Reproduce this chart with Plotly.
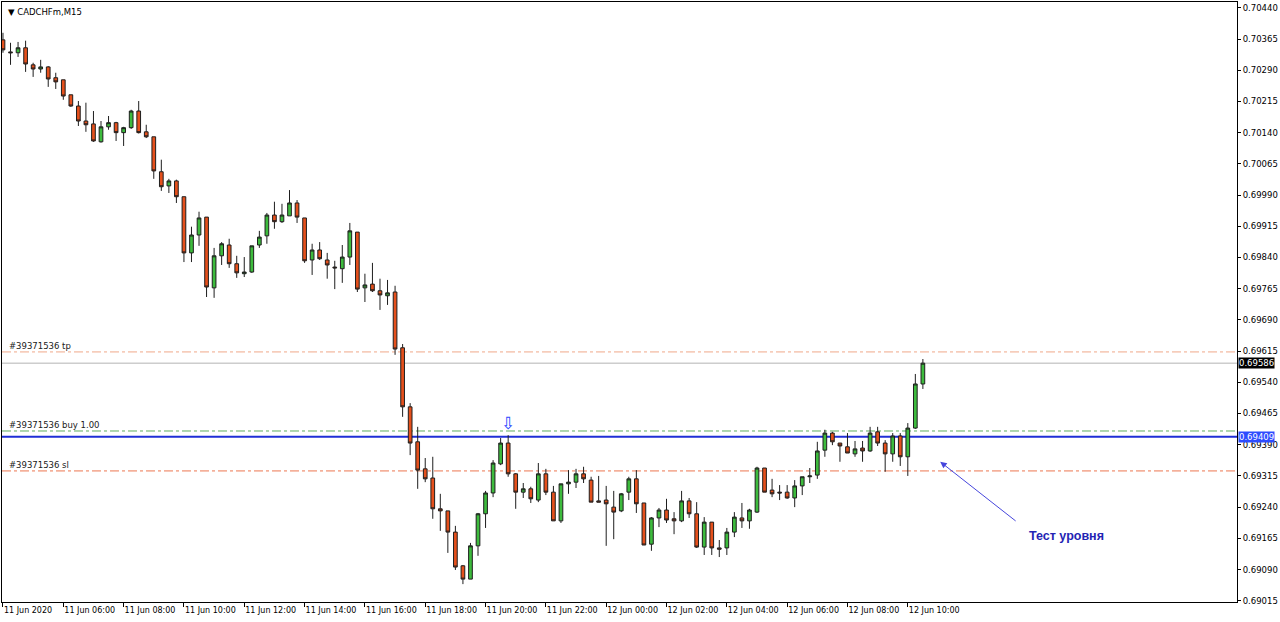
import plotly.graph_objects as go

# ---------------- data (CADCHFm, M15, 11 Jun 04:00 .. 12 Jun 10:30) ----------------
opens = [0.70363, 0.70334, 0.70332, 0.70344, 0.70303, 0.70293, 0.70298, 0.70272, 0.70267, 0.70231,
         0.70204, 0.70168, 0.70161, 0.70118, 0.70154, 0.70164, 0.70140, 0.70152, 0.70192, 0.70142,
         0.70130, 0.70046, 0.70012, 0.70024, 0.69986, 0.69851, 0.69894, 0.69937, 0.69767, 0.69844,
         0.69870, 0.69825, 0.69801, 0.69805, 0.69870, 0.69892, 0.69942, 0.69926, 0.69940, 0.69971,
         0.69935, 0.69834, 0.69858, 0.69834, 0.69817, 0.69813, 0.69841, 0.69901, 0.69767, 0.69776,
         0.69760, 0.69748, 0.69757, 0.69623, 0.69481, 0.69397, 0.69332, 0.69310, 0.69236, 0.69231,
         0.69180, 0.69099, 0.69067, 0.69147, 0.69224, 0.69274, 0.69344, 0.69394, 0.69320, 0.69276,
         0.69284, 0.69257, 0.69320, 0.69276, 0.69207, 0.69296, 0.69300, 0.69320, 0.69305, 0.69255,
         0.69257, 0.69240, 0.69231, 0.69276, 0.69308, 0.69250, 0.69151, 0.69214, 0.69233, 0.69212,
         0.69207, 0.69255, 0.69224, 0.69144, 0.69204, 0.69142, 0.69142, 0.69180, 0.69214, 0.69207,
         0.69228, 0.69334, 0.69281, 0.69276, 0.69276, 0.69262, 0.69291, 0.69313, 0.69317, 0.69377,
         0.69418, 0.69394, 0.69385, 0.69368, 0.69382, 0.69375, 0.69421, 0.69394, 0.69368, 0.69411,
         0.69361, 0.69430, 0.69536]
highs = [0.70380, 0.70356, 0.70358, 0.70361, 0.70308, 0.70315, 0.70300, 0.70284, 0.70267, 0.70231,
         0.70216, 0.70212, 0.70192, 0.70168, 0.70180, 0.70166, 0.70154, 0.70195, 0.70216, 0.70159,
         0.70130, 0.70075, 0.70029, 0.70027, 0.69986, 0.69914, 0.69950, 0.69937, 0.69863, 0.69877,
         0.69885, 0.69844, 0.69841, 0.69868, 0.69904, 0.69947, 0.69974, 0.69969, 0.70002, 0.69978,
         0.69935, 0.69873, 0.69877, 0.69851, 0.69832, 0.69870, 0.69923, 0.69901, 0.69801, 0.69827,
         0.69789, 0.69786, 0.69772, 0.69632, 0.69490, 0.69433, 0.69358, 0.69361, 0.69272, 0.69231,
         0.69195, 0.69101, 0.69154, 0.69226, 0.69279, 0.69353, 0.69406, 0.69413, 0.69322, 0.69298,
         0.69289, 0.69346, 0.69332, 0.69291, 0.69296, 0.69329, 0.69332, 0.69337, 0.69313, 0.69315,
         0.69291, 0.69279, 0.69274, 0.69313, 0.69329, 0.69250, 0.69216, 0.69238, 0.69260, 0.69228,
         0.69279, 0.69262, 0.69252, 0.69216, 0.69204, 0.69161, 0.69190, 0.69228, 0.69250, 0.69236,
         0.69337, 0.69334, 0.69308, 0.69293, 0.69293, 0.69305, 0.69313, 0.69334, 0.69397, 0.69426,
         0.69421, 0.69394, 0.69418, 0.69399, 0.69399, 0.69433, 0.69433, 0.69401, 0.69418, 0.69418,
         0.69442, 0.69560, 0.69596]
lows = [0.70332, 0.70303, 0.70322, 0.70286, 0.70274, 0.70284, 0.70250, 0.70245, 0.70219, 0.70202,
        0.70156, 0.70142, 0.70118, 0.70116, 0.70147, 0.70120, 0.70108, 0.70149, 0.70138, 0.70127,
        0.70029, 0.70000, 0.69995, 0.69971, 0.69829, 0.69829, 0.69868, 0.69745, 0.69743, 0.69822,
        0.69815, 0.69791, 0.69793, 0.69803, 0.69863, 0.69873, 0.69909, 0.69923, 0.69940, 0.69923,
        0.69827, 0.69798, 0.69834, 0.69789, 0.69764, 0.69779, 0.69822, 0.69757, 0.69733, 0.69757,
        0.69714, 0.69726, 0.69606, 0.69457, 0.69365, 0.69284, 0.69300, 0.69212, 0.69183, 0.69130,
        0.69089, 0.69055, 0.69067, 0.69123, 0.69190, 0.69264, 0.69341, 0.69313, 0.69236, 0.69262,
        0.69250, 0.69252, 0.69269, 0.69207, 0.69202, 0.69272, 0.69286, 0.69298, 0.69252, 0.69252,
        0.69147, 0.69163, 0.69228, 0.69257, 0.69226, 0.69149, 0.69135, 0.69192, 0.69202, 0.69175,
        0.69204, 0.69214, 0.69142, 0.69125, 0.69125, 0.69120, 0.69125, 0.69168, 0.69190, 0.69188,
        0.69226, 0.69276, 0.69264, 0.69257, 0.69260, 0.69240, 0.69269, 0.69298, 0.69308, 0.69361,
        0.69389, 0.69349, 0.69370, 0.69361, 0.69349, 0.69373, 0.69387, 0.69325, 0.69349, 0.69339,
        0.69315, 0.69428, 0.69524]
closes = [0.70339, 0.70332, 0.70344, 0.70305, 0.70293, 0.70298, 0.70269, 0.70262, 0.70228, 0.70204,
          0.70168, 0.70159, 0.70120, 0.70154, 0.70164, 0.70140, 0.70152, 0.70192, 0.70140, 0.70130,
          0.70048, 0.70010, 0.70024, 0.69986, 0.69851, 0.69894, 0.69935, 0.69769, 0.69844, 0.69873,
          0.69825, 0.69803, 0.69805, 0.69868, 0.69889, 0.69942, 0.69926, 0.69942, 0.69971, 0.69937,
          0.69832, 0.69858, 0.69837, 0.69822, 0.69815, 0.69841, 0.69904, 0.69764, 0.69774, 0.69760,
          0.69750, 0.69755, 0.69620, 0.69481, 0.69394, 0.69329, 0.69308, 0.69236, 0.69231, 0.69180,
          0.69096, 0.69067, 0.69147, 0.69224, 0.69274, 0.69346, 0.69394, 0.69320, 0.69276, 0.69284,
          0.69260, 0.69320, 0.69276, 0.69207, 0.69296, 0.69300, 0.69320, 0.69308, 0.69252, 0.69252,
          0.69248, 0.69228, 0.69272, 0.69308, 0.69248, 0.69149, 0.69214, 0.69233, 0.69209, 0.69207,
          0.69255, 0.69224, 0.69144, 0.69204, 0.69142, 0.69139, 0.69180, 0.69216, 0.69207, 0.69233,
          0.69334, 0.69276, 0.69272, 0.69274, 0.69262, 0.69291, 0.69313, 0.69315, 0.69375, 0.69418,
          0.69397, 0.69387, 0.69370, 0.69380, 0.69375, 0.69418, 0.69394, 0.69368, 0.69411, 0.69361,
          0.69430, 0.69536, 0.69586]
bars = list(range(len(opens)))

time_tick_bars = [0, 8, 16, 24, 32, 40, 48, 56, 64, 72, 80, 88, 96, 104, 112, 120]
time_tick_labels = ["11 Jun 2020", "11 Jun 06:00", "11 Jun 08:00", "11 Jun 10:00", "11 Jun 12:00",
                    "11 Jun 14:00", "11 Jun 16:00", "11 Jun 18:00", "11 Jun 20:00", "11 Jun 22:00",
                    "12 Jun 00:00", "12 Jun 02:00", "12 Jun 04:00", "12 Jun 06:00", "12 Jun 08:00",
                    "12 Jun 10:00"]
price_ticks = [0.70440, 0.70365, 0.70290, 0.70215, 0.70140, 0.70065, 0.69990, 0.69915, 0.69840,
               0.69765, 0.69690, 0.69615, 0.69540, 0.69465, 0.69390, 0.69315, 0.69240, 0.69165,
               0.69090, 0.69015]

tp_price = 0.69613
buy_price = 0.69423
sl_price = 0.69327
level_price = 0.69409
bid_price = 0.69586
order_label = "#39371536"
order_bar = 67
order_arrow_price = 0.69443

FONT = "DejaVu Sans"
BULL = "#3dbb3d"
BEAR = "#e5501c"

fig = go.Figure()
fig.add_trace(go.Candlestick(
    x=bars, open=opens, high=highs, low=lows, close=closes,
    increasing=dict(fillcolor=BULL, line=dict(color="#1e1e1e", width=1)),
    decreasing=dict(fillcolor=BEAR, line=dict(color="#1e1e1e", width=1)),
    whiskerwidth=0, hoverinfo="skip", showlegend=False,
))

# horizontal lines
def hline(y, color, dash, width):
    fig.add_shape(type="line", xref="paper", x0=0, x1=1, yref="y", y0=y, y1=y,
                  line=dict(color=color, dash=dash, width=width), layer="below")

hline(tp_price, "#f0a88a", "dashdot", 1)
hline(bid_price, "#b4b4b4", "solid", 1)
hline(buy_price, "#5fae5f", "dashdot", 1)
hline(sl_price, "#ec7650", "dashdot", 1)
hline(level_price, "#1f2fd6", "solid", 2)

# order labels
for txt, y in [(order_label + " tp", tp_price), (order_label + " buy 1.00", buy_price),
               (order_label + " sl", sl_price)]:
    fig.add_annotation(xref="paper", x=0.004, y=y, yref="y", text=txt, showarrow=False,
                       xanchor="left", yanchor="bottom", yshift=-1,
                       font=dict(family=FONT, size=8.5, color="#202020"))

# order arrow
fig.add_annotation(x=order_bar, y=order_arrow_price, text="⇩", showarrow=False,
                   font=dict(family=FONT, size=17, color="#2c46ff"))

# price boxes on axis
fig.add_annotation(xref="paper", x=1, y=bid_price, yref="y", text=f"{bid_price:.5f}",
                   showarrow=False, xanchor="left", xshift=1, bgcolor="#000000",
                   borderpad=0, font=dict(family=FONT, size=8.5, color="white"))
fig.add_annotation(xref="paper", x=1, y=level_price, yref="y", text=f"{level_price:.5f}",
                   showarrow=False, xanchor="left", xshift=1, bgcolor="#2d4cff",
                   borderpad=0, font=dict(family=FONT, size=8.5, color="white"))

# comment arrow + text
fig.add_annotation(x=124.3, y=0.69349, ax=134.5, ay=0.69204, axref="x", ayref="y",
                   text="", showarrow=True, arrowhead=2, arrowsize=1.3, arrowwidth=1,
                   arrowcolor="#4646dc")
fig.add_annotation(x=141, y=0.69170, text="<b>Тест уровня</b>", showarrow=False,
                   xanchor="center", font=dict(family="Liberation Sans", size=12.5, color="#2424b4"))

# header
fig.add_annotation(xref="paper", yref="paper", x=0.003, y=0.995, text="▼ CADCHFm,M15",
                   showarrow=False, xanchor="left", yanchor="top",
                   font=dict(family=FONT, size=8.5, color="#000000"))

fig.update_layout(
    width=1280, height=622,
    margin=dict(l=2, r=43, t=2, b=20),
    paper_bgcolor="white", plot_bgcolor="white",
    showlegend=False,
    xaxis=dict(range=[-0.13, 163.66], rangeslider=dict(visible=False),
               tickmode="array", tickvals=time_tick_bars, ticktext=time_tick_labels,
               ticks="outside", ticklen=4, tickcolor="black", tickwidth=1,
               ticklabelposition="outside right",
               tickfont=dict(family=FONT, size=8, color="#000000"),
               showgrid=False, zeroline=False, showline=True, linecolor="black",
               linewidth=1, mirror=True, fixedrange=True),
    yaxis=dict(range=[0.69012, 0.70454], side="right",
               tickmode="array", tickvals=price_ticks,
               ticktext=[f"{v:.5f}" for v in price_ticks],
               ticks="outside", ticklen=3, tickcolor="black", tickwidth=1,
               tickfont=dict(family=FONT, size=8.5, color="#000000"),
               showgrid=False, zeroline=False, showline=True, linecolor="black",
               linewidth=1, mirror=True, fixedrange=True),
)

fig.write_html("out.html", config={"displayModeBar": False},
               post_script="document.body.style.margin='0';")
